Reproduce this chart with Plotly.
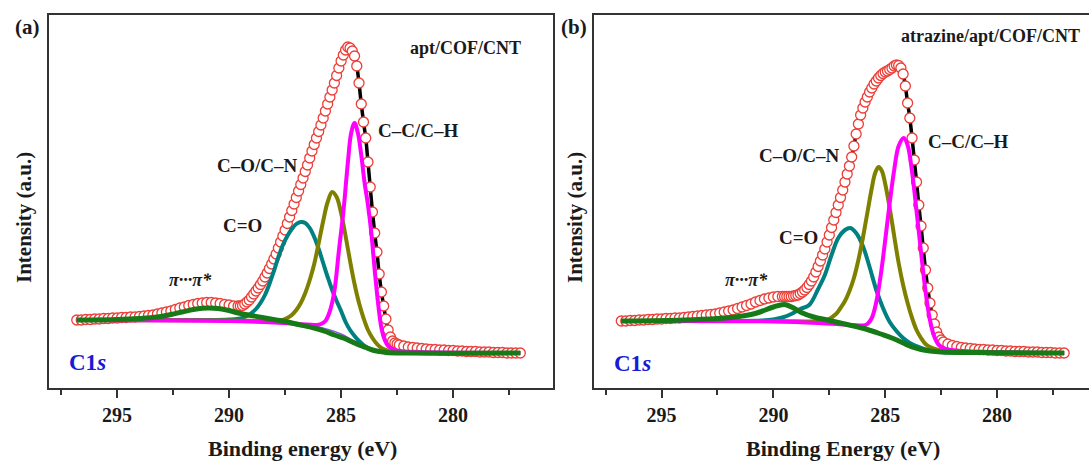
import plotly.graph_objects as go

W, H = 1089, 462

# ---------------- data (intensity in a.u.) ----------------
energy = [296.8, 296.6, 296.4, 296.2, 296.0, 295.8, 295.6, 295.4, 295.2, 295.0,
          294.8, 294.6, 294.4, 294.2, 294.0, 293.8, 293.6, 293.4, 293.2, 293.0,
          292.8, 292.6, 292.4, 292.2, 292.0, 291.8, 291.6, 291.4, 291.2, 291.0,
          290.8, 290.6, 290.4, 290.2, 290.0, 289.8, 289.6,
          289.5, 289.4, 289.3, 289.2, 289.1, 289.0, 288.9, 288.8, 288.7, 288.6,
          288.5, 288.4, 288.3, 288.2, 288.1, 288.0, 287.9, 287.8, 287.7, 287.6,
          287.5, 287.4, 287.3, 287.2, 287.1, 287.0, 286.9, 286.8, 286.7, 286.6,
          286.5, 286.4, 286.3, 286.2, 286.1, 286.0, 285.9, 285.8, 285.7, 285.6,
          285.5, 285.4, 285.3, 285.2, 285.1, 285.0, 284.9, 284.8, 284.7, 284.6,
          284.5, 284.4, 284.3, 284.2, 284.1, 284.0, 283.9, 283.8, 283.7, 283.6,
          283.5, 283.4, 283.3, 283.2, 283.1, 283.0, 282.9, 282.8, 282.7, 282.6,
          282.5,
          282.4, 282.2, 282.0, 281.8, 281.6, 281.4, 281.2, 281.0, 280.8, 280.6,
          280.4, 280.2, 280.0, 279.8, 279.6, 279.4, 279.2, 279.0, 278.8, 278.6,
          278.4, 278.2, 278.0, 277.8, 277.6, 277.4, 277.2, 277.0]

raw_a = [68, 68, 68.5, 68.5, 69, 69, 69.5, 69.5, 70, 70,
         70.5, 70.5, 71, 71, 71.5, 72, 72.5, 73, 74, 75,
         76, 77, 78.5, 80, 81, 82.5, 83.5, 84.5, 85, 85.5,
         85.5, 85, 84.5, 83.5, 83, 82, 82,
         82, 82.5, 84, 86, 88, 91, 94, 97, 100, 103.5,
         107, 111, 115, 119.5, 124, 129, 134, 140, 146, 152,
         158, 164.5, 171, 177.5, 184, 190.5, 197, 203.5, 210, 216.5,
         223, 230, 237, 243.5, 250, 256.5, 263, 270, 277, 284,
         291, 298, 305, 312.5, 320, 327, 333, 338, 341, 340,
         337, 332, 322, 305, 284, 266, 250, 226, 201, 176,
         155, 136, 114, 96, 82, 69, 58, 51, 47, 45,
         44,
         43, 42, 41, 40.5, 40, 39.5, 39, 38.5, 38.5, 38,
         38, 37.5, 37.5, 37, 37, 36.5, 36.5, 36.5, 36, 36,
         36, 35.5, 35.5, 35.5, 35, 35, 35, 35]

raw_b = [67, 67, 67.5, 67.5, 68, 68, 68.5, 68.5, 69, 69,
         69.5, 69.5, 70, 70, 70.5, 71, 71.5, 72, 72.5, 73,
         73.5, 74, 75, 76, 77, 78, 79.5, 81, 82.5, 84,
         86, 87.5, 89, 90, 91, 91.5, 91.5,
         91.5, 91.5, 91.5, 91.5, 92, 92.5, 93, 94.5, 96, 98,
         100.5, 103.5, 107, 111, 116, 121.5, 127, 133, 139, 146,
         153, 160.5, 168, 175.5, 183, 190.5, 198, 206, 214, 222,
         231, 242, 254, 264, 273, 280, 286, 291, 296, 300,
         304, 307, 310, 312.5, 314.5, 316, 317, 318.5, 320, 322,
         323, 322.5, 320, 314, 302, 285, 270, 250, 228, 206,
         183, 162, 140, 118, 100, 85, 73, 64, 56, 51,
         48,
         46, 44, 42.5, 41.5, 40.5, 40, 39.5, 39, 38.5, 38.5,
         38, 38, 37.5, 37.5, 37, 37, 36.5, 36.5, 36.5, 36,
         36, 36, 35.5, 35.5, 35.5, 35, 35, 35]

assert len(energy) == len(raw_a) == len(raw_b), (len(energy), len(raw_a), len(raw_b))

# fitted components, panel (a)
bg_a_x = [296.8, 292.0, 290.0, 289.0, 288.0, 287.0, 286.5, 286.0, 285.5, 285.0, 284.5, 284.0, 283.5, 283.0, 282.0, 277.0]
bg_a_y = [68, 67.5, 67, 66, 65, 63.5, 62.5, 61, 58, 54, 48, 42, 38, 36, 35.3, 35]

co_a_x = [296.8, 294.0, 291.0, 290.0, 289.5, 289.2, 289.0, 288.8, 288.6, 288.4, 288.2, 288.0, 287.8, 287.6, 287.4,
          287.2, 287.0, 286.8, 286.6, 286.4, 286.2, 286.0, 285.8, 285.6, 285.4, 285.2, 285.0, 284.8, 284.6, 284.4,
          284.2, 284.0, 283.8, 283.6, 283.4, 283.0, 282.5, 277.0]
co_a_y = [68, 68, 68, 68.5, 69.5, 72, 75, 79, 85, 93, 104, 117, 131, 143, 152,
          159, 164, 166, 165, 160, 151, 139, 125, 111, 98, 87, 77, 66, 58, 52,
          47, 43, 40, 38, 37, 36, 35.5, 35]

con_a_x = [296.8, 290.0, 288.0, 287.6, 287.4, 287.2, 287.0, 286.8, 286.6, 286.4, 286.2, 286.0, 285.8, 285.6, 285.4,
           285.2, 285.0, 284.8, 284.6, 284.4, 284.2, 284.0, 283.8, 283.6, 283.4, 283.2, 283.0, 282.6, 277.0]
con_a_y = [68, 67.5, 67, 68, 70, 73, 78, 85, 95, 108, 124, 145, 167, 186, 196,
           191, 175, 152, 127, 104, 85, 70, 58, 50, 44, 40, 38, 36, 35]

cc_a_x = [296.8, 290.0, 288.0, 286.5, 286.1, 285.9, 285.7, 285.5, 285.3, 285.1, 284.9, 284.7, 284.55, 284.4, 284.25,
          284.1, 283.95, 283.8, 283.65, 283.5, 283.35, 283.2, 283.05, 282.9, 282.7, 282.4, 281.5, 277.0]
cc_a_y = [68, 67, 65.5, 63.5, 63, 64, 67, 77, 97, 137, 176, 225, 255, 265, 255,
          233, 205, 183, 155, 118, 85, 60, 48, 42, 39, 37, 36, 35]

pi_a_x = [296.8, 295.0, 294.0, 293.2, 292.6, 292.1, 291.6, 291.2, 290.9, 290.5, 290.0, 289.6, 289.0, 288.4, 287.9,
          287.5, 286.9, 286.2, 285.7, 285.3, 284.9, 284.5, 284.2, 283.9, 283.6, 283.3, 283.0, 282.0, 277.0]
pi_a_y = [68, 68.5, 69.5, 71, 73.5, 76, 78.5, 79.8, 80, 79.5, 77.5, 75, 72.5, 70, 68,
          66.5, 63.5, 60, 56.5, 53, 50, 46, 43, 40.5, 38, 36.5, 35.5, 35, 35]

# fitted components, panel (b)
bg_b_x = [296.8, 292.0, 290.0, 289.0, 288.0, 287.0, 286.5, 286.0, 285.5, 285.0, 284.5, 284.0, 283.5, 283.0, 282.0, 277.0]
bg_b_y = [67, 66.5, 66, 65.5, 64.5, 63, 62, 60.5, 57.5, 53.5, 47.5, 42, 38, 36, 35.3, 35]

co_b_x = [296.8, 292.0, 290.5, 290.0, 289.6, 289.2, 288.8, 288.4, 288.0, 287.7, 287.4, 287.1, 286.8, 286.56, 286.3,
          286.0, 285.7, 285.4, 285.1, 284.8, 284.5, 284.2, 283.9, 283.5, 283.1, 282.5, 277.0]
co_b_y = [67, 67, 67.5, 68.5, 70.5, 74, 79, 83, 99, 113, 133, 150, 158, 160, 155,
          142, 121, 98, 80, 66, 57, 50, 45, 41, 38, 36, 35]

con_b_x = [296.8, 290.0, 288.5, 288.0, 287.6, 287.2, 287.0, 286.8, 286.6, 286.4, 286.2, 286.0, 285.8, 285.6, 285.45,
           285.3, 285.15, 285.0, 284.8, 284.6, 284.4, 284.2, 284.0, 283.8, 283.6, 283.4, 283.2, 283.0, 282.6, 282.0, 277.0]
con_b_y = [67, 67, 66.5, 66.5, 68, 74, 80, 87, 97, 110, 128, 150, 175, 200, 215,
           221, 217, 204, 180, 152, 125, 103, 85, 70, 58, 50, 44, 41, 38, 36, 35]

cc_b_x = [296.8, 290.0, 288.0, 286.5, 286.0, 285.8, 285.6, 285.4, 285.2, 285.0, 284.8, 284.6, 284.4, 284.17, 284.0,
          283.8, 283.6, 283.4, 283.2, 283.0, 282.8, 282.6, 282.3, 281.5, 277.0]
cc_b_y = [67, 66.5, 65, 63, 62.5, 64, 70, 86, 113, 148, 185, 218, 242, 250, 243,
          216, 177, 136, 97, 68, 51, 43, 39, 37, 35]

pi_b_x = [296.8, 294.0, 292.5, 291.7, 291.0, 290.6, 290.0, 289.5, 289.1, 288.7, 288.2, 287.6, 287.0, 286.4, 285.8,
          285.2, 284.7, 284.2, 283.8, 283.4, 283.0, 282.5, 281.0, 277.0]
pi_b_y = [67, 68, 69.5, 71, 73.5, 76, 81, 83.5, 80, 75, 71, 68, 65, 62, 58.5,
          54, 50, 45, 41, 38.5, 37, 36, 35.5, 35]

peak_labels = ["C\u2013C/C\u2013H", "C\u2013O/C\u2013N", "C=O", "\u03c0\u00b7\u00b7\u00b7\u03c0*"]
sample_labels = ["apt/COF/CNT", "atrazine/apt/COF/CNT"]
panel_tags = ["(a)", "(b)"]
x_titles = ["Binding energy (eV)", "Binding Energy (eV)"]
y_title = "Intensity (a.u.)"
tick_vals = [295, 290, 285, 280]
minor_vals = [297.5, 292.5, 287.5, 282.5, 277.5]

# ---------------- styles ----------------
RED = "rgb(236,62,56)"
GREEN = "rgb(22,122,22)"
TEAL = "rgb(0,128,128)"
OLIVE = "rgb(128,128,0)"
MAGENTA = "rgb(255,0,255)"
PURPLE = "rgb(140,90,230)"
AX = "#333333"
FONT = "Liberation Serif"

fig = go.Figure()

def add_panel(xa, ya, raw, comps, pi_x, pi_y, bg_x, bg_y):
    fig.add_trace(go.Scatter(x=energy, y=raw, mode="lines", line=dict(color="black", width=3.5, shape="spline"),
                             xaxis=xa, yaxis=ya, showlegend=False, hoverinfo="skip"))
    fig.add_trace(go.Scatter(x=energy, y=raw, mode="markers",
                             marker=dict(symbol="circle", size=10, color="white", line=dict(color=RED, width=1.3)),
                             xaxis=xa, yaxis=ya, showlegend=False))
    fig.add_trace(go.Scatter(x=bg_x, y=bg_y, mode="lines", line=dict(color=PURPLE, width=1.5, shape="spline"),
                             xaxis=xa, yaxis=ya, showlegend=False))
    for (cx, cy, col) in comps:
        fig.add_trace(go.Scatter(x=cx, y=cy, mode="lines", line=dict(color=col, width=4, shape="spline"),
                                 xaxis=xa, yaxis=ya, showlegend=False))
    fig.add_trace(go.Scatter(x=pi_x, y=pi_y, mode="lines", line=dict(color=GREEN, width=5, shape="spline"),
                             xaxis=xa, yaxis=ya, showlegend=False))

add_panel("x", "y", raw_a, [(co_a_x, co_a_y, TEAL), (con_a_x, con_a_y, OLIVE), (cc_a_x, cc_a_y, MAGENTA)],
          pi_a_x, pi_a_y, bg_a_x, bg_a_y)
add_panel("x2", "y2", raw_b, [(co_b_x, co_b_y, TEAL), (con_b_x, con_b_y, OLIVE), (cc_b_x, cc_b_y, MAGENTA)],
          pi_b_x, pi_b_y, bg_b_x, bg_b_y)

tick_text = ["<b>%d</b>" % v for v in tick_vals]

def xaxis_style(domain, rng):
    return dict(domain=domain, range=rng, showline=True, linewidth=2, linecolor=AX, mirror=True,
                ticks="outside", ticklen=8, tickwidth=2, tickcolor=AX,
                tickmode="array", tickvals=tick_vals, ticktext=tick_text,
                tickfont=dict(family=FONT, size=20, color="#1a1a1a"),
                minor=dict(tickmode="array", tickvals=minor_vals, ticks="outside", ticklen=5, tickwidth=1.5,
                           tickcolor=AX),
                showgrid=False, zeroline=False)

def yaxis_style(anchor, mirror):
    return dict(domain=[1 - 388 / H, 1 - 15 / H], range=[0, 373], anchor=anchor, showline=True, linewidth=2,
                linecolor=AX, mirror=mirror, ticks="", showticklabels=False, showgrid=False, zeroline=False)

fig.update_layout(
    width=W, height=H, margin=dict(l=0, r=0, t=0, b=0),
    paper_bgcolor="white", plot_bgcolor="white",
    xaxis=xaxis_style([49 / W, 553 / W], [298.04, 275.54]),
    yaxis=yaxis_style("x", True),
    xaxis2=xaxis_style([594 / W, 1.0], [298.02, 275.89]),
    yaxis2=yaxis_style("x2", False),
)
fig.update_layout(xaxis2=dict(anchor="y2"))

def ann(text, px, py, size=19, color="#1a1a1a", angle=0, xanchor="center"):
    fig.add_annotation(text=text, x=px / W, y=1 - py / H, xref="paper", yref="paper", showarrow=False,
                       xanchor=xanchor, yanchor="middle", textangle=angle,
                       font=dict(family=FONT, size=size, color=color))

# panel (a)
ann("<b>%s</b>" % panel_tags[0], 27, 27, size=21)
ann("<b>%s</b>" % sample_labels[0], 465, 48, size=18)
ann("<b>%s</b>" % peak_labels[0], 418, 130)
ann("<b>%s</b>" % peak_labels[1], 257, 165)
ann("<b>%s</b>" % peak_labels[2], 242, 225)
ann("<b><i>%s</i></b>" % peak_labels[3], 191, 280, size=18)
ann("<b>C1<i>s</i></b>", 87, 362, size=23, color="rgb(25,25,215)")
ann("<b>%s</b>" % y_title, 24, 218, size=21, angle=-90)
ann("<b>%s</b>" % x_titles[0], 302, 448, size=22)

# panel (b)
ann("<b>%s</b>" % panel_tags[1], 574, 27, size=21)
ann("<b>%s</b>" % sample_labels[1], 990, 36, size=18)
ann("<b>%s</b>" % peak_labels[0], 968, 142)
ann("<b>%s</b>" % peak_labels[1], 800, 155)
ann("<b>%s</b>" % peak_labels[2], 798, 237)
ann("<b><i>%s</i></b>" % peak_labels[3], 746, 280, size=18)
ann("<b>C1<i>s</i></b>", 632, 363, size=23, color="rgb(25,25,215)")
ann("<b>%s</b>" % y_title, 575, 218, size=21, angle=-90)
ann("<b>%s</b>" % x_titles[1], 843, 448, size=22)

fig.write_html("out.html")
